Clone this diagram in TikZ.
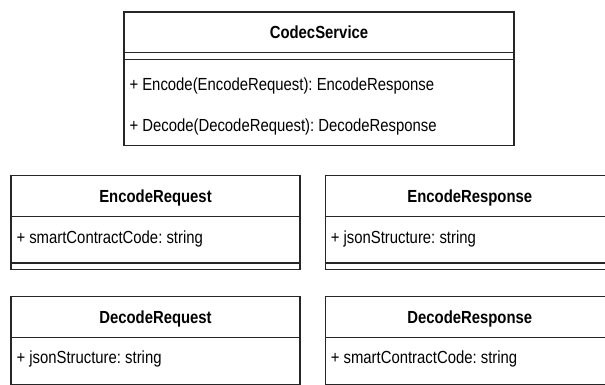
\documentclass[tikz,border=0pt]{standalone}
\usepackage{fontspec}
\setmainfont{Liberation Sans}[FakeStretch=0.85]
\frenchspacing
\begin{document}
\begin{tikzpicture}[x=1pt,y=-1pt,
  comp/.style={draw=black!85, line width=1.2pt, inner sep=0pt, outer sep=0pt, anchor=north west, fill=white},
  hdr/.style={comp, font=\fontsize{17.5}{20}\selectfont\bfseries, text height=12.5pt, text depth=0pt},
  member/.style={inner sep=0pt, outer sep=0pt, anchor=base west, font=\fontsize{17.5}{20}\selectfont}
]
\useasboundingbox (0,0) rectangle (605,385);
\clip (0,0) rectangle (605,385);

% CodecService
\node[hdr, minimum width=390pt, minimum height=40.7pt] (cs) at (124,12) {CodecService};
\node[comp, minimum width=390pt, minimum height=6.6pt] (cs-a) at (cs.south west) {};
\node[comp, minimum width=390pt, minimum height=86.4pt] (cs-m) at (cs-a.south west) {};
\node[member] (cs-m1) at ([xshift=5.5pt,yshift=-31pt]cs-m.north west) {+ Encode(EncodeRequest): EncodeResponse};
\node[member] (cs-m2) at ([xshift=5.5pt,yshift=-72.5pt]cs-m.north west) {+ Decode(DecodeRequest): DecodeResponse};

% EncodeRequest
\node[hdr, minimum width=289pt, minimum height=40.4pt] (erq) at (11,175.7) {EncodeRequest};
\node[comp, minimum width=289pt, minimum height=46.8pt] (erq-a) at (erq.south west) {};
\node[comp, minimum width=289pt, minimum height=6.2pt] (erq-m) at (erq-a.south west) {};
\node[member] (erq-a1) at ([xshift=5.5pt,yshift=-27.3pt]erq-a.north west) {+ smartContractCode: string};

% EncodeResponse
\node[hdr, minimum width=289pt, minimum height=40.4pt] (ers) at (325.3,175.7) {EncodeResponse};
\node[comp, minimum width=289pt, minimum height=46.8pt] (ers-a) at (ers.south west) {};
\node[comp, minimum width=289pt, minimum height=6.2pt] (ers-m) at (ers-a.south west) {};
\node[member] (ers-a1) at ([xshift=5.5pt,yshift=-27.3pt]ers-a.north west) {+ jsonStructure: string};

% DecodeRequest
\node[hdr, minimum width=289pt, minimum height=40.6pt] (drq) at (11,296.7) {DecodeRequest};
\node[comp, minimum width=289pt, minimum height=47pt] (drq-a) at (drq.south west) {};
\node[comp, minimum width=289pt, minimum height=6.2pt] (drq-m) at (drq-a.south west) {};
\node[member] (drq-a1) at ([xshift=5.5pt,yshift=-26.6pt]drq-a.north west) {+ jsonStructure: string};

% DecodeResponse
\node[hdr, minimum width=289pt, minimum height=40.6pt] (drs) at (325.3,296.7) {DecodeResponse};
\node[comp, minimum width=289pt, minimum height=47pt] (drs-a) at (drs.south west) {};
\node[comp, minimum width=289pt, minimum height=6.2pt] (drs-m) at (drs-a.south west) {};
\node[member] (drs-a1) at ([xshift=5.5pt,yshift=-26.6pt]drs-a.north west) {+ smartContractCode: string};
\end{tikzpicture}
\end{document}
